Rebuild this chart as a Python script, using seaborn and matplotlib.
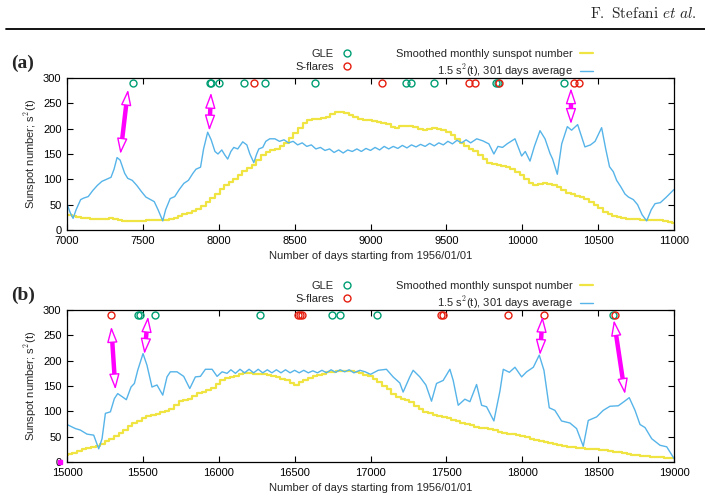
import matplotlib
matplotlib.use("Agg")
import matplotlib.pyplot as plt
import numpy as np
import pandas as pd
import seaborn as sns

# ---------------- data ----------------
epoch = pd.Timestamp("1956-01-01")

# panel (a): 7000..11000 days
a_xlim = (7000, 11000)
a_gle = [7433, 7940, 7950, 8004, 8169, 8308, 8637, 9237, 9264, 9420, 9824, 9840, 10277]
a_flares = [8235, 9079, 9651, 9688, 9850, 10343, 10376]
# smoothed monthly sunspot number, one value per calendar month from 1975-03
a_ssn = [30, 28, 26, 24, 23, 21, 21, 21, 22, 23, 22, 20, 18, 17, 17, 17, 18, 19, 20, 20,
         19, 20, 22, 24, 27, 31, 34, 38, 42, 48, 55, 63, 72, 81, 88, 95, 101, 108, 116, 122,
         128, 139, 148, 153, 157, 160, 165, 172, 182, 192, 202, 211, 217, 219, 220, 221, 223, 228, 232, 232,
         230, 226, 223, 220, 218, 217, 216, 214, 212, 209, 204, 202, 205, 206, 205, 203, 200, 198, 199, 202,
         200, 197, 193, 188, 180, 172, 165, 160, 155, 148, 140, 132, 130, 128, 127, 125, 121, 115, 108, 100,
         92, 89, 90, 92, 91, 88, 84, 79, 74, 71, 68, 65, 61, 56, 50, 43, 36, 31, 27, 25,
         23, 22, 21, 21, 20, 20, 20, 20, 19, 17, 15, 13]
# 1.5 s^2(t), 301 days average
a_s2_day = [7000, 7020, 7040, 7060, 7090, 7110, 7140, 7170, 7200, 7230, 7260, 7290, 7310, 7330, 7350,
            7380, 7400, 7430, 7460, 7490, 7520, 7550, 7575, 7600, 7631, 7650, 7680, 7710, 7740, 7770,
            7800, 7830, 7850, 7880, 7900, 7927, 7950, 7975, 7995, 8020, 8040, 8059, 8080, 8099, 8125,
            8158, 8185, 8205, 8231, 8250, 8264, 8290, 8310, 8336, 8370, 8400, 8430, 8460, 8490, 8520,
            8550, 8580, 8610, 8640, 8670, 8700, 8730, 8760, 8790, 8820, 8850, 8880, 8910, 8940, 8970,
            9000, 9030, 9060, 9090, 9120, 9150, 9180, 9210, 9240, 9270, 9300, 9330, 9360, 9390, 9420,
            9450, 9480, 9510, 9540, 9570, 9600, 9630, 9660, 9700, 9740, 9780, 9813, 9840, 9870, 9900,
            9952, 9996, 10020, 10051, 10080, 10117, 10150, 10183, 10200, 10231, 10260, 10297, 10325, 10365, 10390,
            10413, 10450, 10480, 10523, 10550, 10575, 10600, 10622, 10650, 10677, 10700, 10732, 10760, 10790, 10820,
            10850, 10875, 10910, 10950, 11000]
a_s2_val = [52, 35, 23, 40, 60, 63, 66, 78, 88, 96, 100, 104, 120, 143, 138,
            112, 102, 98, 88, 76, 65, 60, 56, 40, 18, 40, 62, 66, 80, 92,
            98, 112, 120, 124, 160, 193, 178, 155, 150, 158, 148, 140, 155, 163, 160,
            174, 168, 150, 133, 150, 160, 163, 175, 180, 180, 175, 178, 172, 175, 168,
            172, 165, 168, 160, 163, 157, 160, 153, 158, 152, 158, 155, 160, 155, 161,
            157, 163, 158, 165, 160, 165, 161, 167, 162, 168, 164, 169, 165, 171, 166,
            172, 168, 175, 170, 177, 172, 178, 172, 180, 176, 170, 150, 165, 163, 170,
            180, 146, 155, 136, 165, 196, 180, 151, 140, 110, 170, 204, 197, 208, 185,
            164, 168, 175, 202, 160, 125, 115, 98, 85, 71, 65, 60, 50, 30, 18,
            40, 52, 54, 65, 80]
# double arrows: (day_top, value_top, day_bottom, value_bottom)
a_arrows = [(7402, 277, 7352, 150), (7949, 271, 7938, 196), (10321, 280, 10321, 209)]

# panel (b): 15000..19000 days
b_xlim = (15000, 19000)
b_gle = [15466, 15479, 15578, 16270, 16749, 16802, 17044, 18600]
b_flares = [15292, 16523, 16538, 16549, 17466, 17475, 17908, 18143, 18608]
# smoothed monthly sunspot number, one value per calendar month from 1997-01
b_ssn = [14, 15, 18, 22, 26, 28, 30, 32, 35, 41, 46, 51, 57, 64, 72, 76, 80, 86, 90, 92,
         95, 98, 100, 105, 113, 120, 123, 125, 130, 136, 138, 142, 147, 153, 162, 166, 168, 170, 173, 175,
         175, 174, 173, 173, 172, 169, 167, 164, 161, 155, 152, 158, 161, 165, 169, 171, 174, 177, 178, 179,
         180, 180, 179, 178, 176, 172, 169, 163, 158, 150, 144, 135, 129, 125, 122, 118, 111, 105, 99, 96,
         93, 91, 88, 86, 83, 80, 77, 75, 73, 70, 68, 67, 65, 63, 60, 58, 56, 55, 54, 52,
         49, 46, 44, 42, 40, 38, 36, 34, 32, 30, 29, 28, 27, 26, 25, 25, 24, 23, 21, 20,
         19, 17, 15, 14, 13, 12, 11, 10, 10, 9, 8, 8, 7]
b_s2_day = [15000, 15055, 15088, 15132, 15176, 15209, 15231, 15253, 15286, 15312, 15334, 15363, 15391, 15422, 15444,
            15466, 15501, 15527, 15560, 15593, 15631, 15659, 15681, 15725, 15769, 15809, 15846, 15879, 15912, 15956,
            15989, 16022, 16055, 16080, 16110, 16140, 16170, 16200, 16230, 16260, 16290, 16320, 16350, 16380, 16410,
            16440, 16470, 16500, 16530, 16560, 16590, 16620, 16650, 16680, 16710, 16740, 16770, 16800, 16830, 16860,
            16890, 16930, 16965, 17000, 17051, 17105, 17149, 17193, 17215, 17259, 17281, 17325, 17365, 17402, 17435,
            17479, 17523, 17545, 17578, 17622, 17655, 17699, 17732, 17765, 17813, 17853, 17875, 17915, 17952, 17996,
            18029, 18073, 18112, 18143, 18178, 18215, 18259, 18314, 18358, 18402, 18435, 18490, 18534, 18578, 18633,
            18670, 18705, 18743, 18776, 18809, 18853, 18908, 18952, 19000]
b_s2_val = [74, 66, 63, 55, 53, 26, 46, 96, 99, 125, 135, 129, 123, 148, 155,
            181, 214, 191, 148, 152, 132, 168, 178, 178, 169, 145, 168, 169, 183, 183,
            169, 178, 175, 182, 175, 183, 176, 183, 176, 183, 176, 182, 176, 182, 176,
            182, 176, 181, 176, 181, 176, 180, 176, 181, 176, 182, 177, 182, 178, 182,
            176, 181, 178, 173, 181, 183, 168, 156, 138, 168, 181, 168, 152, 120, 155,
            161, 183, 161, 112, 124, 119, 153, 112, 109, 81, 140, 183, 177, 187, 168,
            178, 187, 211, 181, 107, 102, 81, 77, 66, 31, 82, 89, 102, 110, 111,
            119, 127, 102, 74, 68, 46, 33, 30, 7]
b_arrows = [(15292, 267, 15319, 143), (15534, 287, 15510, 213),
            (18134, 287, 18117, 211), (18604, 280, 18677, 134)]
b_stray = (14954, 0)

event_level = 290
yticks = [0, 50, 100, 150, 200, 250, 300]

# ---------------- style ----------------
c_ssn = "#f0e442"
c_s2 = "#56b4e9"
c_gle = "#009e73"
c_flare = "#e51e10"
c_arrow = "#ff00ff"

sns.set_style("ticks")
plt.rcParams["font.family"] = ["Liberation Sans", "DejaVu Sans"]
plt.rcParams["font.size"] = 8
plt.rcParams["mathtext.fontset"] = "cm"

fig = plt.figure(figsize=(7.05, 5.03), dpi=100)


def month_steps(start_year_month, values, xlim):
    starts = pd.date_range(start_year_month, periods=len(values), freq="MS")
    days = np.asarray((starts - epoch).days, dtype=float)
    days[0] = max(days[0], xlim[0])
    x = np.append(days, xlim[1])
    y = np.append(values, values[-1])
    return x, y


def draw_panel(ax, label, xlim, ssn_start, ssn, s2_day, s2_val, gle, flares, arrows):
    sx, sy = month_steps(ssn_start, ssn, xlim)
    sns.lineplot(x=sx, y=sy, ax=ax, color=c_ssn, lw=1.6, drawstyle="steps-post",
                 estimator=None, sort=False, label="Smoothed monthly sunspot number")
    sns.lineplot(x=s2_day, y=s2_val, ax=ax, color=c_s2, lw=1.0, estimator=None, sort=False,
                 label=r"1.5 s$^2$(t), 301 days average")
    g, = ax.plot(gle, [event_level] * len(gle), ls="none", marker="o", ms=5, mfc="none",
                 mec=c_gle, mew=1.0, label="GLE")
    f, = ax.plot(flares, [event_level] * len(flares), ls="none", marker="o", ms=5, mfc="none",
                 mec=c_flare, mew=1.0, label="S-flares")
    for x0, y0, x1, y1 in arrows:
        ax.annotate("", xy=(x1, y1), xytext=(x0, y0),
                    arrowprops=dict(arrowstyle="-", color=c_arrow, lw=3.2, shrinkA=9, shrinkB=9))
        ax.annotate("", xy=(x1, y1), xytext=(x0, y0),
                    arrowprops=dict(arrowstyle="<|-|>,head_length=1.2,head_width=0.4",
                                    fc="white", ec=c_arrow, lw=1.0, shrinkA=0, shrinkB=0))

    ax.set_xlim(*xlim)
    ax.set_ylim(0, 300)
    ax.set_yticks(yticks)
    ax.set_xticks(np.arange(xlim[0], xlim[1] + 1, 500))
    ax.tick_params(direction="in", length=4, width=0.8, top=True, right=True,
                   labelsize=8, pad=4, colors="black")
    ax.tick_params(axis="y", labelright=False)
    for s in ax.spines.values():
        s.set_visible(True)
        s.set_linewidth(0.9)
        s.set_color("black")
    ax.set_xlabel("Number of days starting from 1956/01/01", fontsize=8, labelpad=4)
    ax.set_ylabel(r"Sunspot number; s$^2$(t)", fontsize=8, labelpad=3)

    handles, labels = ax.get_legend_handles_labels()
    lines_h = [h for h, l in zip(handles, labels) if l not in ("GLE", "S-flares")]
    lines_l = [l for l in labels if l not in ("GLE", "S-flares")]
    pos = ax.get_position()
    top = pos.y1 + 29 / 503
    leg1 = ax.legend([g, f], ["GLE", "S-flares"], loc="upper right", frameon=False,
                     markerfirst=False, handlelength=1.0, handletextpad=0.75, labelspacing=0.3,
                     borderpad=0, borderaxespad=0, fontsize=8,
                     bbox_to_anchor=(353 / 705, top), bbox_transform=fig.transFigure)
    leg1._legend_handle_box.get_children()[0].align = "right"
    ax.add_artist(leg1)
    leg2 = ax.legend(lines_h, lines_l, loc="upper right", frameon=False,
                     markerfirst=False, handlelength=1.2, handletextpad=0.65, labelspacing=0.3,
                     borderpad=0, borderaxespad=0, fontsize=8,
                     bbox_to_anchor=(593 / 705, top), bbox_transform=fig.transFigure)
    leg2._legend_handle_box.get_children()[0].align = "right"

    fig.text(11 / 705, pos.y1 + 15 / 503, label, fontsize=14, fontweight="bold",
             family=["Liberation Serif", "DejaVu Serif"], ha="left", va="center")


ax_a = fig.add_axes([67 / 705, 1 - 230 / 503, 607 / 705, 152 / 503])
ax_b = fig.add_axes([67 / 705, 1 - 462 / 503, 607 / 705, 152 / 503])

draw_panel(ax_a, "(a)", a_xlim, "1975-03-01", a_ssn, a_s2_day, a_s2_val, a_gle, a_flares, a_arrows)
draw_panel(ax_b, "(b)", b_xlim, "1997-01-01", b_ssn, b_s2_day, b_s2_val, b_gle, b_flares, b_arrows)
ax_b.plot([b_stray[0]], [b_stray[1]], ls="none", marker="s", ms=3, color=c_arrow, clip_on=False)

# running header
fig.text(697 / 705, 1 - 13 / 503, r"$\mathrm{F.\ Stefani}\ \mathit{et\ al.}$", fontsize=11,
         ha="right", va="center")
fig.add_artist(plt.Line2D([6 / 705, 1.0], [1 - 29 / 503, 1 - 29 / 503], color="black", lw=1.3))

fig.savefig("out.png", dpi=100)
